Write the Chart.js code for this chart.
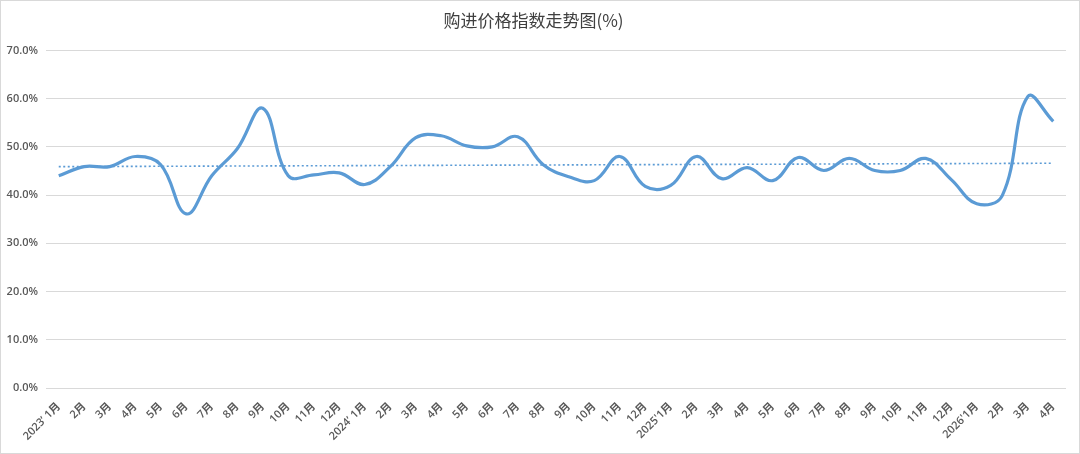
<!DOCTYPE html>
<html>
<head>
<meta charset="utf-8">
<script src="https://cdn.jsdelivr.net/npm/chart.js@4/dist/chart.umd.min.js"></script>
<style>
  html, body { margin: 0; padding: 0; background: #fff; }
  #wrap { width: 1078px; height: 452px; border: 1px solid #d9d9d9; }
</style>
</head>
<body>
<div id="wrap"><canvas id="myChart" width="1078" height="452"></canvas></div>
<script>
// month labels as printed on the axis
const months = [
  "2023’ 1月", "2月", "3月", "4月", "5月", "6月", "7月", "8月", "9月", "10月", "11月", "12月",
  "2024’ 1月", "2月", "3月", "4月", "5月", "6月", "7月", "8月", "9月", "10月", "11月", "12月",
  "2025'1月", "2月", "3月", "4月", "5月", "6月", "7月", "8月", "9月", "10月", "11月", "12月",
  "2026'1月", "2月", "3月", "4月"
];

// purchase price index (%)
const priceIndex = [
  44.0, 45.9, 45.9, 48.0, 46.3, 36.1, 44.0, 49.6, 58.0, 44.0, 44.2, 44.6,
  42.2, 45.9, 51.9, 52.3, 50.2, 50.0, 52.1, 46.3, 43.8, 43.0, 48.0, 41.8,
  42.0, 48.0, 43.4, 45.7, 43.0, 47.8, 45.1, 47.6, 45.1, 45.1, 47.6, 43.2,
  38.2, 39.9, 60.4, 55.3
];

// dotted trend line, read at its two ends
const trendStart = 45.9;
const trendEnd = 46.6;
const trendLine = months.map((m, i) => i === 0 ? trendStart : (i === months.length - 1 ? trendEnd : null));

const yTicks = [0, 10, 20, 30, 40, 50, 60, 70];

const tickFont = { family: "'Open Sans', 'Noto Sans CJK SC', sans-serif", size: 11, weight: '600' };

const ctx = document.getElementById('myChart').getContext('2d');
new Chart(ctx, {
  type: 'line',
  data: {
    labels: months,
    datasets: [{
      label: '购进价格指数',
      data: priceIndex,
      borderColor: '#5b9bd5',
      borderWidth: 3.2,
      pointRadius: 0,
      tension: 0.4,
      fill: false
    }, {
      label: '趋势线',
      data: trendLine,
      spanGaps: true,
      borderColor: '#5b9bd5',
      borderWidth: 1.6,
      borderDash: [2, 2.5],
      pointRadius: 0,
      fill: false
    }]
  },
  options: {
    responsive: false,
    animation: false,
    layout: { padding: { left: 0, right: 13, top: 0, bottom: 4 } },
    plugins: {
      legend: { display: false },
      tooltip: { enabled: false },
      title: {
        display: true,
        text: '购进价格指数走势图(%)',
        color: '#404040',
        font: { family: "'Noto Sans CJK SC', sans-serif", size: 17, weight: 'normal' },
        padding: { top: 9, bottom: 20 }
      }
    },
    scales: {
      x: {
        offset: true,
        grid: { display: false },
        border: { display: false },
        ticks: {
          color: '#595959',
          font: tickFont,
          autoSkip: false,
          minRotation: 45,
          maxRotation: 45,
          padding: 4
        },
        afterFit: (s) => { s.height = 61; }
      },
      y: {
        min: 0,
        max: 70,
        afterBuildTicks: (s) => { s.ticks = yTicks.map(v => ({ value: v })); },
        grid: { color: '#d9d9d9', lineWidth: 1, drawTicks: false },
        border: { display: false },
        ticks: {
          color: '#595959',
          font: tickFont,
          padding: 8,
          callback: (v) => v.toFixed(1) + '%'
        },
        afterFit: (s) => { s.width = 45; }
      }
    }
  }
});
</script>
</body>
</html>
